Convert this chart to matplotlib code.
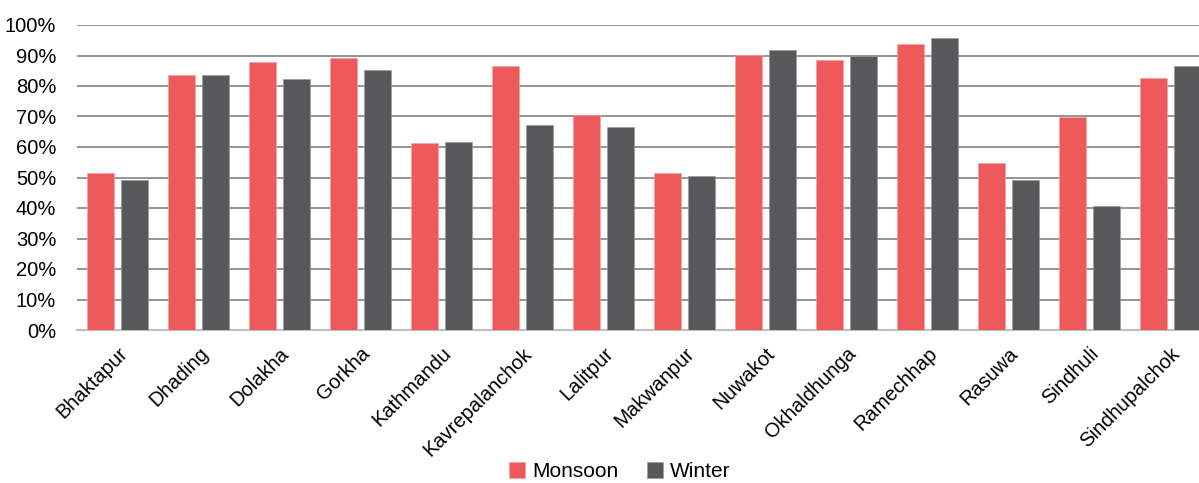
import matplotlib
matplotlib.use("Agg")
import matplotlib.pyplot as plt
import numpy as np
from matplotlib.ticker import PercentFormatter

plt.rcParams['font.family'] = ['Liberation Sans', 'DejaVu Sans']

districts = ["Bhaktapur", "Dhading", "Dolakha", "Gorkha", "Kathmandu", "Kavrepalanchok",
             "Lalitpur", "Makwanpur", "Nuwakot", "Okhaldhunga", "Ramechhap", "Rasuwa",
             "Sindhuli", "Sindhupalchok"]
monsoon = [51.5, 83.6, 87.9, 89.2, 61.3, 86.6, 70.5, 51.5, 90.2, 88.5, 93.8, 54.8, 69.8, 82.6]
winter = [49.2, 83.6, 82.3, 85.2, 61.6, 67.2, 66.6, 50.5, 91.8, 89.8, 95.7, 49.2, 40.7, 86.6]

fig = plt.figure(figsize=(11.99, 4.83), dpi=100)
ax = fig.add_axes([77/1199, 1-330/483, (1211-77)/1199, (330-25)/483])

x = np.arange(len(districts))
w = 0.335
ax.bar(x - 0.207, monsoon, w, color="#EE5A5C", edgecolor="#F7A0A0", linewidth=0.5, label="Monsoon", zorder=3)
ax.bar(x + 0.207, winter, w, color="#58585A", edgecolor="#9A9A9A", linewidth=0.5, label="Winter", zorder=3)

ax.set_xlim(-0.5, len(districts) - 0.5)
ax.set_ylim(0, 100)
ax.set_yticks(np.arange(0, 101, 10))
ax.yaxis.set_major_formatter(PercentFormatter(decimals=0))
ax.grid(axis='y', color="#8C8C8C", linewidth=1.3, zorder=0)
ax.set_axisbelow(True)
for s in ["top", "right", "left"]:
    ax.spines[s].set_visible(False)
ax.spines["bottom"].set_color("#BFBFBF")
ax.spines["bottom"].set_linewidth(1.5)
ax.tick_params(axis='y', length=0, labelsize=14.5, colors="black", pad=15)
ax.tick_params(axis='x', length=0, labelsize=14.5, colors="black", pad=10)
ax.set_xticks(x)
ax.set_xticklabels(districts, rotation=45, ha='right', rotation_mode='anchor')

fig.legend(loc='lower center', bbox_to_anchor=(0.517, -0.035), ncol=2, frameon=False,
           fontsize=15, handlelength=0.75, handleheight=0.75, handletextpad=0.35, columnspacing=1.4)

fig.savefig("out.png", dpi=100)
